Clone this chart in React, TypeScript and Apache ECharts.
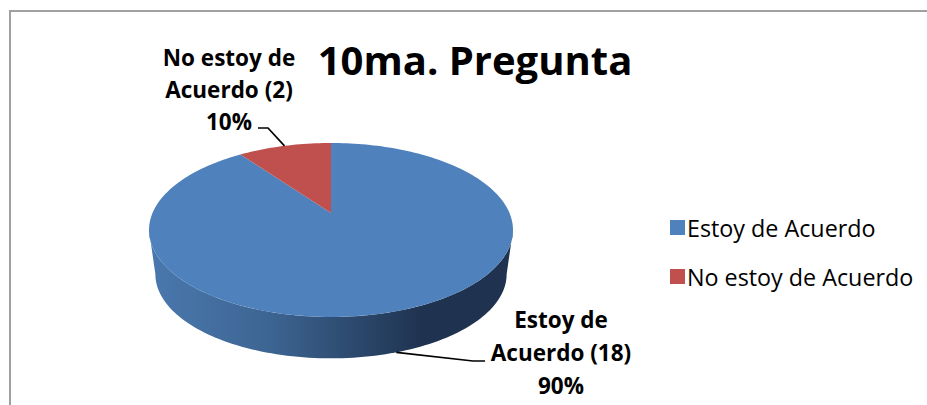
import React, { useEffect, useRef } from "react";
import * as echarts from "echarts";

const titleText = "10ma. Pregunta";
const categories = ["Estoy de Acuerdo", "No estoy de Acuerdo"];
const values = [18, 2];
const labelLines = [["Estoy de", "Acuerdo (18)", "90%"], ["No estoy de", "Acuerdo (2)", "10%"]];
const colors = ["#4f81bd", "#c0504d"];

const FONT = "'Open Sans'";
const total = values.reduce((a, b) => a + b, 0);
const CX = 331, CY = 213, RX = 178.5, RY = 83.7, K = 0.195;
const SHRINK = 0.965, DEPTH = 45;

function project(deg: number, bottom = false): number[] {
  const t = (deg * Math.PI) / 180;
  const u = Math.sin(t), v = -Math.cos(t), w = 1 - K * v;
  const s = bottom ? SHRINK : 1;
  return [CX + (s * RX * u) / w, CY + (bottom ? DEPTH : 0) + (s * RY * v) / w];
}

function arc(from: number, to: number, bottom = false): number[][] {
  const pts: number[][] = [];
  const n = Math.max(2, Math.ceil(Math.abs(to - from) / 1.5));
  for (let i = 0; i <= n; i++) pts.push(project(from + ((to - from) * i) / n, bottom));
  return pts;
}

const SIDE_DEG = (Math.acos(-K) * 180) / Math.PI;

const labelLayout = [
  { cx: 561, top: 319, step: 33, elbow: [473, 361], end: [485, 361], anchorBottom: true },
  { cx: 229, top: 57, step: 32, elbow: [268, 128], end: [258, 128], anchorBottom: false },
];

function renderSlice(params: any, api: any) {
  const idx = params.seriesIndex as number;
  const before = values.slice(0, idx).reduce((a, b) => a + b, 0);
  const a0 = (before / total) * 360;
  const a1 = ((before + values[idx]) / total) * 360;
  const mid = (a0 + a1) / 2;
  const children: any[] = [];

  if (idx === 0) {
    const side = [
      ...arc(SIDE_DEG, 360 - SIDE_DEG),
      ...arc(360 - SIDE_DEG, SIDE_DEG, true),
    ];
    children.push({
      type: "polygon",
      shape: { points: side },
      style: {
        fill: new echarts.graphic.LinearGradient(0, 0, 1, 0, [
          { offset: 0, color: "#4a78ae" },
          { offset: 0.33, color: "#3d6592" },
          { offset: 0.75, color: "#1f3350" },
          { offset: 1, color: "#1f3350" },
        ]),
      },
    });
  }
  children.push({
    type: "polygon",
    shape: { points: [[CX, CY], ...arc(a0, a1)] },
    style: { fill: colors[idx] },
  });
  const lay = labelLayout[idx];
  children.push({
    type: "polyline",
    shape: { points: [lay.end, lay.elbow, project(mid, lay.anchorBottom)] },
    style: { stroke: "#000000", lineWidth: 1.7, fill: "none" },
  });
  labelLines[idx].forEach((line, i) => {
    children.push({
      type: "text",
      style: {
        x: lay.cx,
        y: lay.top + i * lay.step,
        text: line,
        fill: "#000000",
        font: `bold 22.5px ${FONT}`,
        align: "center",
        verticalAlign: "middle",
      },
    });
  });
  return { type: "group", children };
}

export default function App() {
  const ref = useRef<HTMLDivElement>(null);
  useEffect(() => {
    const chart = echarts.init(ref.current!, undefined, { renderer: "svg" });
    chart.setOption({
      animation: false,
      backgroundColor: "#ffffff",
      title: {
        text: titleText,
        left: 470,
        top: 34,
        textAlign: "center",
        textStyle: { fontFamily: "Open Sans", fontWeight: "bold", fontSize: 40, color: "#000000" },
      },
      legend: {
        orient: "vertical",
        left: 665,
        top: 211,
        itemWidth: 15,
        itemHeight: 15,
        itemGap: 26,
        icon: "rect",
        data: categories,
        textStyle: { fontFamily: "Open Sans", fontSize: 23.3, color: "#000000", padding: [0, 0, 0, -3] },
      },
      graphic: [
        {
          type: "rect",
          z: -1,
          shape: { x: 10, y: 11, width: 960, height: 440 },
          style: { fill: "none", stroke: "#a0a0a0", lineWidth: 2 },
        },
      ],
      series: categories.map((name, i) => ({
        type: "custom",
        name,
        coordinateSystem: "none",
        itemStyle: { color: colors[i] },
        data: [{ name, value: values[i] }],
        renderItem: renderSlice,
        silent: true,
      })),
    });
    return () => chart.dispose();
  }, []);
  return <div ref={ref} style={{ position: "absolute", left: 0, top: 0, width: 927, height: 405 }} />;
}
